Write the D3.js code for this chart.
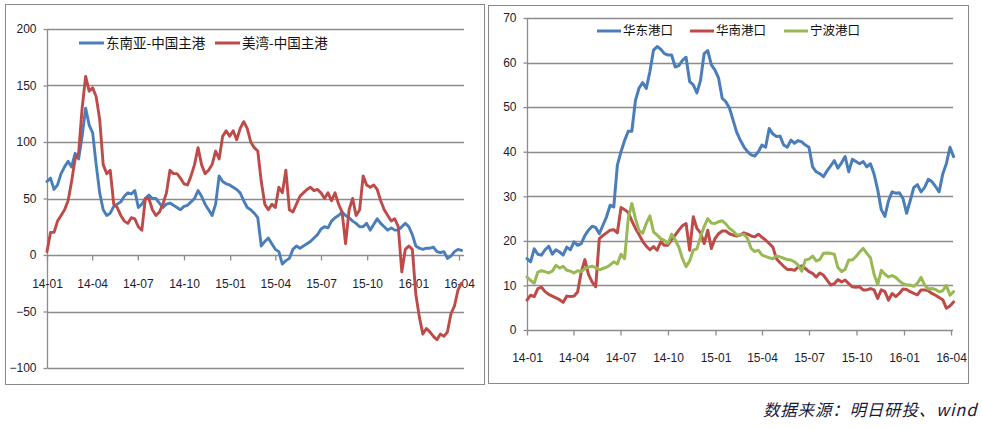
<!DOCTYPE html>
<html><head><meta charset="utf-8">
<script src="https://cdn.jsdelivr.net/npm/d3@7/dist/d3.min.js"></script>
<style>body{margin:0;background:#fff}svg{display:block}</style>
</head><body>
<svg id="c" width="982" height="428"></svg>
<script>
// ---- data ----
const startDate = "2014-01-01";
const weekStepDays = 7;
const tickDates = ["2014-01-01","2014-04-01","2014-07-01","2014-10-01","2015-01-01","2015-04-01","2015-07-01","2015-10-01","2016-01-01","2016-04-01"];
const tickLabels = ["14-01","14-04","14-07","14-10","15-01","15-04","15-07","15-10","16-01","16-04"];

const leftSeriesNames = ["东南亚-中国主港","美湾-中国主港"];
const leftYTicks = [-100,-50,0,50,100,150,200];
const seaToChina = [65,68,58,62,72,78,83,78,90,85,
 105,130,115,108,80,55,40,35,37,43,
 45,47,52,55,54,57,42,45,50,53,
 50,50,46,42,45,46,44,42,40,43,
 44,47,50,57,52,45,40,35,45,70,
 65,63,62,60,58,55,48,42,40,37,
 33,8,12,15,10,5,3,-8,-5,-3,
 5,8,6,8,10,12,15,18,23,25,
 24,30,33,35,38,35,33,30,28,25,
 25,28,22,27,32,28,25,22,24,22,
 22,25,28,25,18,8,6,5,6,6,
 7,3,2,3,-3,-1,3,5,4];
const usGulfToChina = [3,20,20,30,35,40,48,65,85,90,
 130,158,145,148,140,120,80,72,75,45,
 42,35,30,28,33,32,25,22,50,50,
 40,35,38,45,55,75,72,72,68,63,
 62,70,80,95,80,72,75,80,92,85,
 105,110,105,110,102,112,118,112,100,95,
 92,65,45,40,45,42,60,55,75,40,
 38,45,52,55,58,60,57,58,55,50,
 55,48,55,45,38,10,40,50,35,40,
 70,62,60,62,58,48,40,35,30,32,
 25,-15,5,8,5,-35,-55,-70,-65,-68,
 -72,-75,-70,-72,-68,-52,-45,-31,-25];

const rightSeriesNames = ["华东港口","华南港口","宁波港口"];
const rightYTicks = [0,10,20,30,40,50,60,70];
const eastChinaPorts = [16,15.3,18.2,17,16.8,18,18.8,17,18,17.5,
 16.8,18.6,18,19.8,19,19.4,21.2,22.4,23.3,23,
 21.6,23.5,25.4,28,27.6,37,40,42.5,44.6,44.6,
 51.5,54.3,55.5,54.2,58,62.8,63.6,63,62,61.7,
 61.7,59,59.3,60.5,61.2,55.7,55,53.2,56,62,
 62.7,59.5,58.3,56.5,52,51.2,49.8,47.1,44.4,42.6,
 41.1,40,39.3,39,40,41.5,41,45.2,44,43.4,
 43.5,41.5,41,42.6,41.9,42.5,42.2,41.5,41,36.6,
 35.5,35.1,34.4,35.7,36.8,38,36.3,37.5,38.9,35.5,
 38.3,37.8,37.3,37.8,36.6,37.3,35,31.5,27,25.5,
 29,31,30.7,30.8,29.5,26.2,29,32,32.6,31,
 32,33.8,33.3,32.2,31,35,37.3,41,38.9];
const southChinaPorts = [6.7,7.8,7.5,9.3,9.6,8.6,8,7.6,7.2,6.8,
 6.2,7.6,7.5,7.6,8.5,13,15.8,12.5,10.8,9.7,
 20.5,21.2,21.8,22.4,22.5,21.8,27.5,27,26.4,24.5,
 22.8,21.4,19.9,18.8,18,18.7,17.9,19.8,19,19,
 20.3,21.3,22.4,23.4,23.9,17.9,25.4,22.8,21.8,19.4,
 22.4,18.3,20.5,21.6,22.2,22.2,21.6,21.3,21.1,21.3,
 21.8,21.5,21.1,20.9,21.5,20.8,20.2,19.4,18.6,16,
 15.1,14.3,13.6,13.6,13.4,14.1,14.4,13.8,13.1,12.7,
 11.9,12.8,12.3,11.2,10.1,10.4,11.3,10.8,11.2,10.4,
 9.7,9.6,9.7,9,9,9.3,9,7.1,9,8.6,
 6.7,8.2,7.5,8.2,9.2,9.1,8.6,8.2,7.9,9,
 9,8.8,8.2,7.8,7.3,6.8,4.9,5.4,6.3];
const ningboPort = [11.9,11.1,10.5,13,13.3,13.1,12.8,13.2,14.5,13.9,
 14.3,13.4,13.2,12.8,13.3,13.1,13.8,14.1,14.3,14,
 13.5,13.8,14.1,14.6,15.3,14.8,17,16,25,28.4,
 25,22.3,21.7,23.9,25.6,22,21.3,20.5,20.1,19.4,
 21.5,20.2,18.6,16,14.2,15.5,17.9,18.2,20.9,23.2,
 25,24,23.9,24.3,24.5,23.8,22.8,22.2,21.3,21.3,
 21.5,20.5,18.3,17.6,17.9,16.8,16.5,16.2,16,16.6,
 16.4,16.1,15.8,15.7,15.3,14.6,13.2,15.7,15.9,16.6,
 15.5,15.8,17.2,17.3,17.2,17,14,13.1,13.6,15.7,
 15.7,16.5,17.5,18.3,17.2,16.2,12.5,10.2,13.4,12.5,
 11.9,12.2,11.8,11,10.4,10.1,10.1,9.8,10.5,11.8,
 10.1,9.2,9.3,9.1,8.6,8.8,10,7.8,8.6];

const sourceNote = "数据来源：明日研投、wind";
const colors = ["#4a7ebb","#be4b48","#98b954"];

// ---- drawing ----
const svg = d3.select("#c");
const parse = d3.utcParse("%Y-%m-%d");
const t0 = parse(startDate);
const ticksD = tickDates.map(parse);
const gridColor = "#8c8c8c";
const labelFont = "'Liberation Sans', Arial, sans-serif";
const cjkFont = "'Noto Sans CJK SC', sans-serif";

function datesFor(arr){ return arr.map((_, i) => d3.utcDay.offset(t0, i * weekStepDays)); }

function panel(cfg){
  const g = svg.append("g");
  g.append("rect").attr("x", cfg.frame[0]+0.5).attr("y", cfg.frame[1]+0.5)
    .attr("width", cfg.frame[2]-cfg.frame[0]).attr("height", cfg.frame[3]-cfg.frame[1])
    .attr("fill","#fff").attr("stroke","#8a8a8a").attr("stroke-width",1);

  const x = d3.scaleUtc().domain([ticksD[0], ticksD[ticksD.length-1]]).range(cfg.xRange);
  const y = d3.scaleLinear().domain(cfg.yDomain).range(cfg.yRange);
  const zeroY = Math.round(y(0)) + 0.5;
  const axL = Math.round(cfg.xRange[0]) + 0.5;

  g.append("g").selectAll("line").data(cfg.yTicks.filter(v => v !== 0)).join("line")
    .attr("x1", axL).attr("x2", cfg.plotRight)
    .attr("y1", d => Math.round(y(d)) + 0.5).attr("y2", d => Math.round(y(d)) + 0.5)
    .attr("stroke", gridColor).attr("stroke-width", 1.3);

  const ya = g.append("g").attr("transform", `translate(${axL},0)`)
    .call(d3.axisLeft(y).tickValues(cfg.yTicks).tickSizeInner(4).tickSizeOuter(0).tickPadding(7).tickFormat(d3.format("d")));
  ya.select(".domain").attr("stroke", gridColor).attr("stroke-width",1.3)
    .attr("d", `M0,${y(cfg.yDomain[1])}V${y(cfg.yDomain[0])}`);
  ya.selectAll(".tick line").attr("stroke", gridColor).attr("stroke-width",1.3);
  ya.selectAll(".tick text").attr("font-family", labelFont).attr("font-size", 12).attr("fill","#1c1c30");

  const xa = g.append("g").attr("transform", `translate(0,${zeroY})`)
    .call(d3.axisBottom(x).tickValues(ticksD).tickSizeInner(5).tickSizeOuter(0).tickFormat((d,i) => tickLabels[i]));
  xa.select(".domain").attr("stroke", gridColor).attr("stroke-width",1.3)
    .attr("d", `M${axL},0H${cfg.plotRight}`);
  xa.selectAll(".tick line").attr("stroke", gridColor).attr("stroke-width",1.3);
  xa.selectAll(".tick text").attr("font-family", labelFont).attr("font-size", 12).attr("fill","#1c1c30")
    .attr("y", cfg.xLabelOffset).attr("dy","0.35em");

  const line = d3.line().x(d => x(d[0])).y(d => y(d[1])).curve(d3.curveLinear);
  cfg.series.forEach((s) => {
    const ds = datesFor(s.values);
    g.append("path").datum(s.values.map((v,i) => [ds[i], v]))
      .attr("d", line).attr("fill","none").attr("stroke", s.color)
      .attr("stroke-width", cfg.lineWidth).attr("stroke-linejoin","round").attr("stroke-linecap","round");
  });

  cfg.series.forEach((s, k) => {
    const lx = cfg.legendX[k];
    g.append("line").attr("x1", lx).attr("x2", lx + cfg.legendLine).attr("y1", cfg.legendY).attr("y2", cfg.legendY)
      .attr("stroke", s.color).attr("stroke-width", 3);
    g.append("text").attr("x", lx + cfg.legendLine + 2).attr("y", cfg.legendY).attr("dy","0.35em")
      .attr("font-family", cjkFont).attr("font-size", cfg.legendFont).attr("fill","#111")
      .text(s.name);
  });
}

panel({
  frame:[5,4,484,384],
  xRange:[47,459], plotRight:464,
  yDomain:[-100,200], yRange:[368,29], yTicks:leftYTicks,
  xLabelOffset:28, lineWidth:2.9,
  series:[
    {name:leftSeriesNames[0], values:seaToChina, color:colors[0]},
    {name:leftSeriesNames[1], values:usGulfToChina, color:colors[1]}
  ],
  legendX:[79,215], legendY:43, legendLine:25, legendFont:13.5
});

panel({
  frame:[488,5,968,383],
  xRange:[527,951], plotRight:953,
  yDomain:[0,70], yRange:[330,18], yTicks:rightYTicks,
  xLabelOffset:27, lineWidth:3,
  series:[
    {name:rightSeriesNames[0], values:eastChinaPorts, color:colors[0]},
    {name:rightSeriesNames[1], values:southChinaPorts, color:colors[1]},
    {name:rightSeriesNames[2], values:ningboPort, color:colors[2]}
  ],
  legendX:[597,690,784], legendY:31, legendLine:24, legendFont:12.5
});

svg.append("text").attr("x", 763).attr("y", 416)
  .attr("font-family", cjkFont).attr("font-size", 16.5).attr("font-style","italic")
  .attr("letter-spacing", 0.8).attr("fill","#1a1a40").text(sourceNote);
</script>
</body></html>
